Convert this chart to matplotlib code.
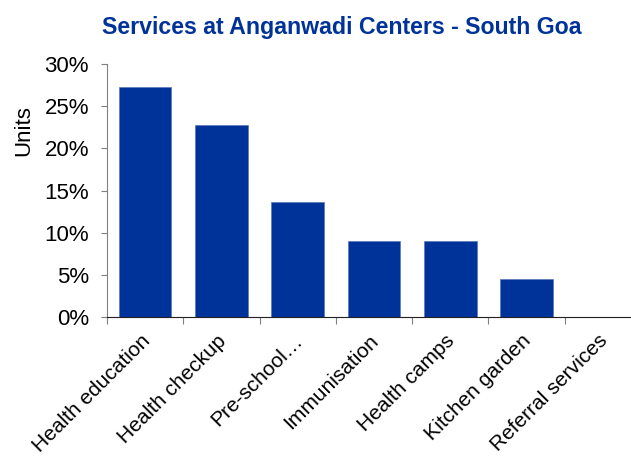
import matplotlib.pyplot as plt
from matplotlib.ticker import PercentFormatter
from matplotlib.transforms import ScaledTranslation

services = ['Health education', 'Health checkup', 'Pre-school…', 'Immunisation',
            'Health camps', 'Kitchen garden', 'Referral services']
share = [27.27, 22.73, 13.64, 9.09, 9.09, 4.55, 0.0]

plt.rcParams['font.family'] = ['Liberation Sans', 'DejaVu Sans']
blue = '#003399'

fig = plt.figure(figsize=(6.31, 4.57), dpi=100)
ax = fig.add_axes([0.1696, 0.3057, 0.8462, 0.5543])

x = range(len(services))
ax.bar(x, share, width=0.69, color=blue, edgecolor='#5a78b8', linewidth=0.5)

ax.set_xlim(-0.5, len(services) + 0.5 - 1)
ax.set_ylim(0, 30)
ax.set_yticks(range(0, 31, 5))
ax.yaxis.set_major_formatter(PercentFormatter(decimals=0))
ax.tick_params(axis='y', labelsize=16, length=4, color='#808080', pad=9)

ax.set_xticks([i - 0.5 for i in range(len(services) + 1)])
ax.set_xticklabels([])
ax.set_xticks(list(x), minor=True)
ax.set_xticklabels(services, minor=True, rotation=45, ha='right',
                   rotation_mode='anchor', fontsize=15)
ax.tick_params(axis='x', which='major', length=5, color='#808080')
ax.tick_params(axis='x', which='minor', length=0, pad=10)
shift = ScaledTranslation(-5 / 100, 0, fig.dpi_scale_trans)
for lbl in ax.get_xticklabels(minor=True):
    lbl.set_transform(lbl.get_transform() + shift)

ax.spines['top'].set_visible(False)
ax.spines['right'].set_visible(False)
ax.spines['left'].set_color('#808080')
ax.spines['bottom'].set_color('#202020')

fig.text(0.037, 0.715, 'Units', rotation=90, ha='center', va='center', fontsize=16)
fig.text(0.542, 0.94, 'Services at Anganwadi Centers - South Goa', ha='center',
         va='center', fontsize=16.7, fontweight='bold', color=blue)

fig.savefig('out.png', dpi=100)
